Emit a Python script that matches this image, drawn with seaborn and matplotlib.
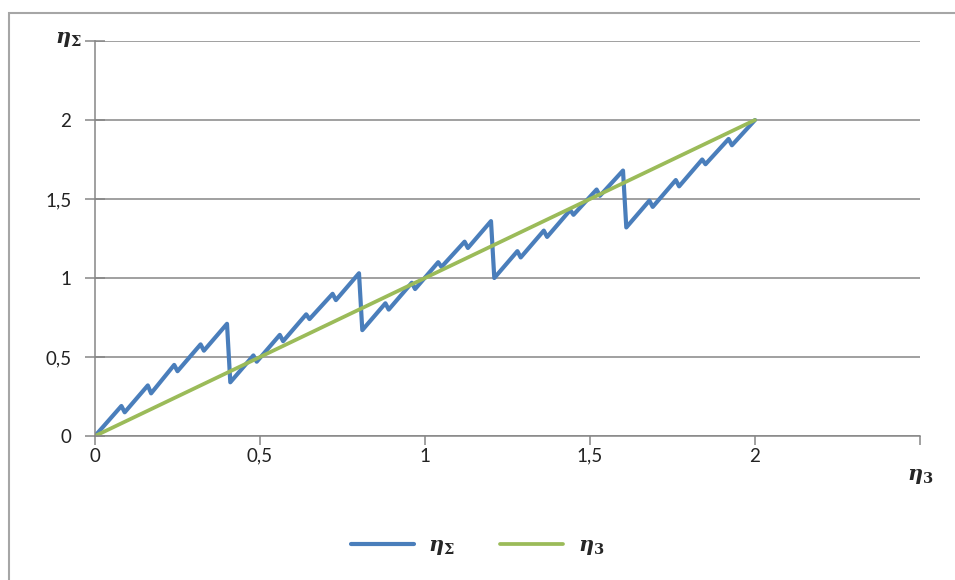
import numpy as np
import pandas as pd
import seaborn as sns
import matplotlib.pyplot as plt
from matplotlib.patches import Rectangle

# eta_3 values (x axis) and the sawtooth eta_sigma
eta3_saw = [0.00, 0.08, 0.09, 0.16, 0.17, 0.24, 0.25, 0.32, 0.33, 0.40,
            0.41, 0.48, 0.49, 0.56, 0.57, 0.64, 0.65, 0.72, 0.73, 0.80,
            0.81, 0.88, 0.89, 0.96, 0.97, 1.04, 1.05, 1.12, 1.13, 1.20,
            1.21, 1.28, 1.29, 1.36, 1.37, 1.44, 1.45, 1.52, 1.53, 1.60,
            1.61, 1.68, 1.69, 1.76, 1.77, 1.84, 1.85, 1.92, 1.93, 2.00]
eta_sigma = [0.00, 0.19, 0.15, 0.32, 0.27, 0.45, 0.41, 0.58, 0.54, 0.71,
             0.34, 0.51, 0.47, 0.64, 0.60, 0.77, 0.74, 0.90, 0.86, 1.03,
             0.67, 0.84, 0.80, 0.97, 0.93, 1.10, 1.07, 1.23, 1.19, 1.36,
             1.00, 1.17, 1.13, 1.30, 1.26, 1.43, 1.40, 1.56, 1.52, 1.68,
             1.32, 1.49, 1.45, 1.62, 1.58, 1.75, 1.72, 1.88, 1.84, 2.00]

# straight line eta_3
eta3_line_x = [0.0, 2.0]
eta3_line_y = [0.0, 2.0]

x_ticks = [0, 0.5, 1, 1.5, 2, 2.5]
x_labels = ["0", "0,5", "1", "1,5", "2", ""]
y_ticks = [0, 0.5, 1, 1.5, 2, 2.5]
y_labels = ["0", "0,5", "1", "1,5", "2", ""]

lbl_sigma = r"$\eta_{\Sigma}$"
lbl_3 = r"$\eta_{3}$"

sns.set_theme(style="white")
plt.rcParams["font.family"] = ["Lato", "DejaVu Sans"]
plt.rcParams["mathtext.fontset"] = "custom"
plt.rcParams["mathtext.it"] = "DejaVu Serif:italic:bold"
plt.rcParams["mathtext.rm"] = "DejaVu Serif:bold"
plt.rcParams["mathtext.bf"] = "DejaVu Serif:bold"

df_saw = pd.DataFrame({"x": eta3_saw, "y": eta_sigma})
df_line = pd.DataFrame({"x": eta3_line_x, "y": eta3_line_y})

fig = plt.figure(figsize=(9.55, 5.8), dpi=100)
ax = fig.add_axes([95 / 955, 1 - 436 / 580, 825 / 955, 395 / 580])

grid_col = "#868686"
ax.set_axisbelow(True)
ax.grid(axis="y", color=grid_col, linewidth=1.1)
ax.grid(axis="x", visible=False)

sns.lineplot(data=df_saw, x="x", y="y", ax=ax, color="#4A7EBB",
             linewidth=3.0, sort=False, estimator=None, label=lbl_sigma)
sns.lineplot(data=df_line, x="x", y="y", ax=ax, color="#9BBB59",
             linewidth=2.7, sort=False, estimator=None, label=lbl_3)

ax.set_xlim(0, 2.5)
ax.set_ylim(0, 2.5)
ax.set_xticks(x_ticks)
ax.set_xticklabels(x_labels)
ax.set_yticks(y_ticks)
ax.set_yticklabels(y_labels)
ax.set_xlabel("")
ax.set_ylabel("")

for s in ["top", "right"]:
    ax.spines[s].set_visible(False)
for s in ["left", "bottom"]:
    ax.spines[s].set_color(grid_col)
    ax.spines[s].set_linewidth(1.1)

ax.tick_params(axis="y", direction="inout", length=14, width=1.1,
               color=grid_col, pad=10, labelsize=13.5, labelcolor="#222222", left=True)
ax.tick_params(axis="x", direction="out", length=6.5, width=1.1,
               color=grid_col, pad=2, labelsize=13.5, labelcolor="#222222", bottom=True)

# axis names where excel put them
fig.text(82 / 955, 1 - 39 / 580, lbl_sigma, ha="right", va="center", fontsize=15)
fig.text(920 / 955, 1 - 476 / 580, lbl_3, ha="center", va="center", fontsize=15)

ax.get_legend().remove()
handles, labels = ax.get_legend_handles_labels()
fig.legend(handles, labels, loc="center", bbox_to_anchor=(0.5, 1 - 546 / 580),
           ncol=2, frameon=False, fontsize=15, handlelength=3.0,
           handletextpad=0.7, columnspacing=2.2)

# chart area border (right and bottom edges fall outside the image)
top = 1 - 13 / 580
fig.patches.append(Rectangle((9 / 955, -0.1), 1.2, top + 0.1,
                             transform=fig.transFigure, fill=False,
                             edgecolor="#a6a6a6", linewidth=1.5))

fig.savefig("out.png", dpi=100)
